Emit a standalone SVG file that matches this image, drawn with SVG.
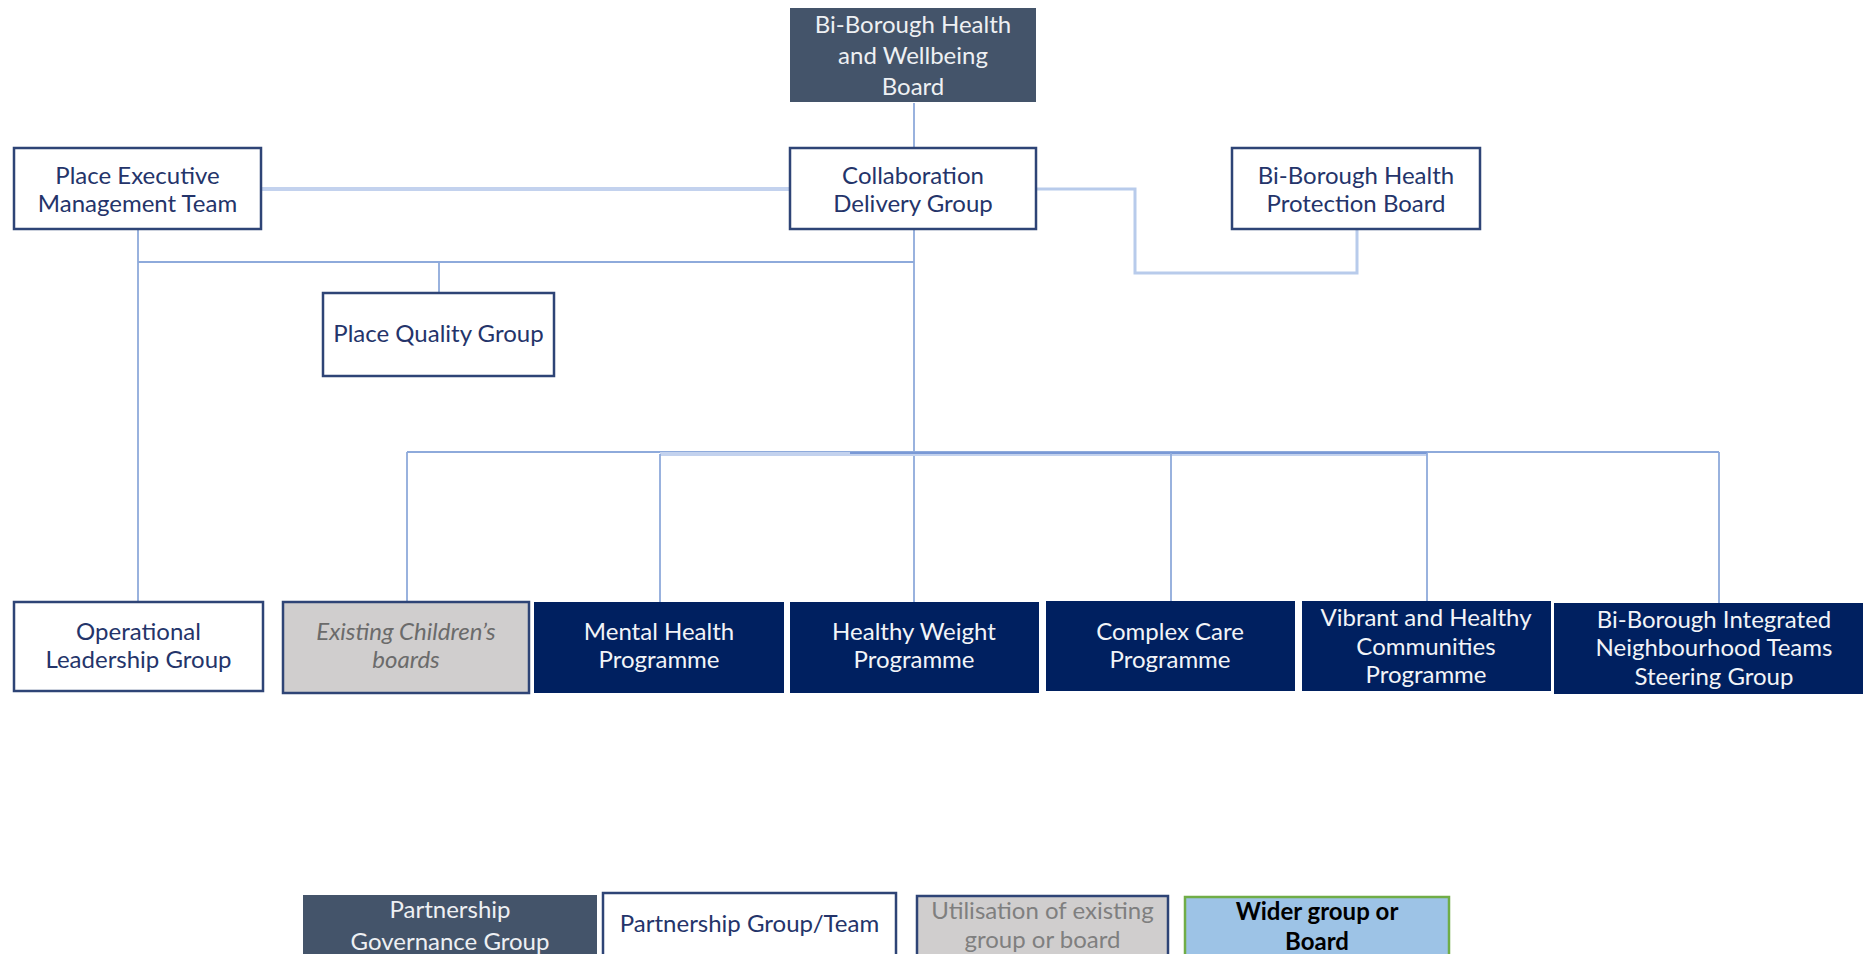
<svg xmlns="http://www.w3.org/2000/svg" width="1863" height="954" viewBox="0 0 1863 954">
<style>
text{font-family:Lato,"Liberation Sans",sans-serif;font-size:24px;text-anchor:middle;dominant-baseline:central}
.gov{fill:#44546a}
.govt{fill:#eef0f3}
.team{fill:#ffffff;stroke:#2e4476;stroke-width:2.5}
.teamt{fill:#24346a}
.exist{fill:#d0cece;stroke:#2e4476;stroke-width:2.5}
.existt{fill:#6b6b6b;font-style:italic}
.prog{fill:#002060}
.progt{fill:#f2f4f8}
.wider{fill:#9dc3e6;stroke:#70ad47;stroke-width:2.5}
.widert{fill:#000000;font-weight:bold}
.ln{stroke:#8eaadb;stroke-width:1.8;fill:none}
.lnt{stroke:#c3d2ee;stroke-width:4;fill:none}
.lnm{stroke:#b8cbeb;stroke-width:3;fill:none}
</style>
<rect width="1863" height="954" fill="#ffffff"/>
<g id="connectors">
<line class="ln" x1="914" y1="103" x2="914" y2="148"/>
<line class="lnt" x1="261" y1="189" x2="790" y2="189"/>
<polyline class="lnm" points="1037,189 1135,189 1135,273 1357,273 1357,229"/>
<line class="ln" x1="138" y1="229" x2="138" y2="602"/>
<line class="ln" x1="138" y1="262" x2="914" y2="262"/>
<line class="ln" x1="439" y1="262" x2="439" y2="293"/>
<line class="ln" x1="914" y1="229" x2="914" y2="602"/>
<line class="ln" x1="407" y1="452" x2="1719" y2="452"/>
<line class="lnt" x1="660" y1="454" x2="1427" y2="454"/>
<line x1="850" y1="453" x2="1427" y2="453" stroke="#7a99d6" stroke-width="2"/>
<line class="ln" x1="407" y1="452" x2="407" y2="602"/>
<line class="ln" x1="660" y1="454" x2="660" y2="602"/>
<line class="ln" x1="1171" y1="453" x2="1171" y2="601"/>
<line class="ln" x1="1427" y1="453" x2="1427" y2="601"/>
<line class="ln" x1="1719" y1="452" x2="1719" y2="603"/>
</g>
<g id="hwb">
<rect class="gov" x="790" y="8" width="246" height="94"/>
<text class="govt" x="913" y="23">Bi-Borough Health</text>
<text class="govt" x="913" y="54">and Wellbeing</text>
<text class="govt" x="913" y="85">Board</text>
</g>
<g id="pemt">
<rect class="team" x="14" y="148" width="247" height="81"/>
<text class="teamt" x="137.5" y="174">Place Executive</text>
<text class="teamt" x="137.5" y="202">Management Team</text>
</g>
<g id="cdg">
<rect class="team" x="790" y="148" width="246" height="81"/>
<text class="teamt" x="913" y="174">Collaboration</text>
<text class="teamt" x="913" y="202">Delivery Group</text>
</g>
<g id="hpb">
<rect class="team" x="1232" y="148" width="248" height="81"/>
<text class="teamt" x="1356" y="174">Bi-Borough Health</text>
<text class="teamt" x="1356" y="202">Protection Board</text>
</g>
<g id="pqg">
<rect class="team" x="323" y="293" width="231" height="83"/>
<text class="teamt" x="438.5" y="332">Place Quality Group</text>
</g>
<g id="olg">
<rect class="team" x="14" y="602" width="249" height="89"/>
<text class="teamt" x="138.5" y="630">Operational</text>
<text class="teamt" x="138.5" y="658">Leadership Group</text>
</g>
<g id="ecb">
<rect class="exist" x="283" y="602" width="246" height="91"/>
<text class="existt" x="406" y="630">Existing Children’s</text>
<text class="existt" x="406" y="658">boards</text>
</g>
<g id="mhp">
<rect class="prog" x="534" y="602" width="250" height="91"/>
<text class="progt" x="659" y="630">Mental Health</text>
<text class="progt" x="659" y="658">Programme</text>
</g>
<g id="hwp">
<rect class="prog" x="790" y="602" width="249" height="91"/>
<text class="progt" x="914" y="630">Healthy Weight</text>
<text class="progt" x="914" y="658">Programme</text>
</g>
<g id="ccp">
<rect class="prog" x="1046" y="601" width="249" height="90"/>
<text class="progt" x="1170" y="630">Complex Care</text>
<text class="progt" x="1170" y="658">Programme</text>
</g>
<g id="vhc">
<rect class="prog" x="1302" y="601" width="249" height="90"/>
<text class="progt" x="1426" y="616">Vibrant and Healthy</text>
<text class="progt" x="1426" y="645">Communities</text>
<text class="progt" x="1426" y="673">Programme</text>
</g>
<g id="bint">
<rect class="prog" x="1554" y="603" width="320" height="91"/>
<text class="progt" x="1714" y="618">Bi-Borough Integrated</text>
<text class="progt" x="1714" y="646">Neighbourhood Teams</text>
<text class="progt" x="1714" y="675">Steering Group</text>
</g>
<g id="legend-gov">
<rect class="gov" x="303" y="895" width="294" height="70"/>
<text class="govt" x="450" y="908">Partnership</text>
<text class="govt" x="450" y="940">Governance Group</text>
</g>
<g id="legend-team">
<rect class="team" x="603" y="893" width="293" height="70"/>
<text class="teamt" x="749.5" y="922">Partnership Group/Team</text>
</g>
<g id="legend-exist">
<rect class="exist" x="917" y="896" width="251" height="70"/>
<text x="1042.5" y="909" fill="#7f7f7f">Utilisation of existing</text>
<text x="1042.5" y="938" fill="#7f7f7f">group or board</text>
</g>
<g id="legend-wider">
<rect class="wider" x="1185" y="897" width="264" height="70"/>
<text class="widert" x="1317" y="910">Wider group or</text>
<text class="widert" x="1317" y="940">Board</text>
</g>
</svg>
